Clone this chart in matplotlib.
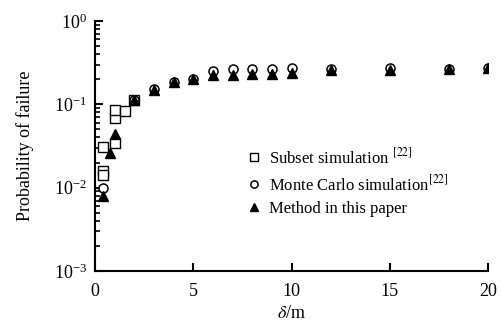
import matplotlib
matplotlib.use("Agg")
import matplotlib.pyplot as plt
from matplotlib.ticker import LogLocator, NullFormatter

plt.rcParams["font.family"] = ["Liberation Serif", "DejaVu Serif"]
plt.rcParams["mathtext.fontset"] = "stix"

# subset simulation [22]
subset_x = [0.4, 0.4, 0.4, 1.0, 1.0, 1.0, 1.5, 2.0]
subset_p = [0.031, 0.016, 0.014, 0.034, 0.069, 0.085, 0.083, 0.112]

# Monte Carlo simulation [22]
mc_x = [0.4, 2, 3, 4, 5, 6, 7, 8, 9, 10, 12, 15, 18, 20]
mc_p = [0.0098, 0.113, 0.152, 0.186, 0.204, 0.25, 0.265, 0.265, 0.268, 0.27,
        0.262, 0.27, 0.265, 0.275]

# method in this paper
m_x = [0.4, 0.75, 1, 2, 3, 4, 5, 6, 7, 8, 9, 10, 12, 15, 18, 20]
m_p = [0.008, 0.026, 0.044, 0.112, 0.15, 0.185, 0.2, 0.222, 0.228, 0.23,
       0.232, 0.238, 0.255, 0.26, 0.265, 0.27]

fig = plt.figure(figsize=(5.01, 3.23), dpi=100)
ax = fig.add_axes([0.19, 0.161, 0.784, 0.774])

ax.plot(subset_x, subset_p, ls="none", marker="s", ms=6.5, mfc="white",
        mec="black", mew=1.0, label="Subset simulation $^{[22]}$")
ax.plot(mc_x, mc_p, ls="none", marker="o", ms=6.5, mfc="white",
        mec="black", mew=1.1, label="Monte Carlo simulation$^{[22]}$")
ax.plot(m_x, m_p, ls="none", marker="^", ms=6.5, color="black",
        label="Method in this paper")

ax.set_yscale("log")
ax.set_xlim(0, 20)
ax.set_ylim(1e-3, 1)
ax.set_xticks([0, 5, 10, 15, 20])
ax.yaxis.set_major_locator(LogLocator(base=10, numticks=10))
ax.yaxis.set_minor_locator(LogLocator(base=10, subs=range(2, 10), numticks=20))
ax.yaxis.set_minor_formatter(NullFormatter())

# only left and bottom axes
ax.spines["top"].set_visible(False)
ax.spines["right"].set_visible(False)
ax.spines["left"].set_linewidth(1.5)
ax.spines["bottom"].set_linewidth(1.5)

ax.tick_params(which="major", direction="in", length=6, width=1.5,
               labelsize=13, pad=6)
ax.tick_params(axis="x", which="major", pad=9)
ax.tick_params(which="minor", direction="in", length=3.5, width=1.2)
ax.tick_params(axis="x", which="minor", bottom=False)

ax.set_xlabel(r"$\delta$/m", fontsize=13, labelpad=3)
ax.set_ylabel("Probability of failure", fontsize=13, labelpad=14)

ax.legend(loc="upper left", bbox_to_anchor=(0.34, 0.555), frameon=False,
          fontsize=12, handletextpad=0.3, labelspacing=0.4,
          handlelength=1.2, markerscale=0.8)

fig.savefig("out.png", dpi=100)
